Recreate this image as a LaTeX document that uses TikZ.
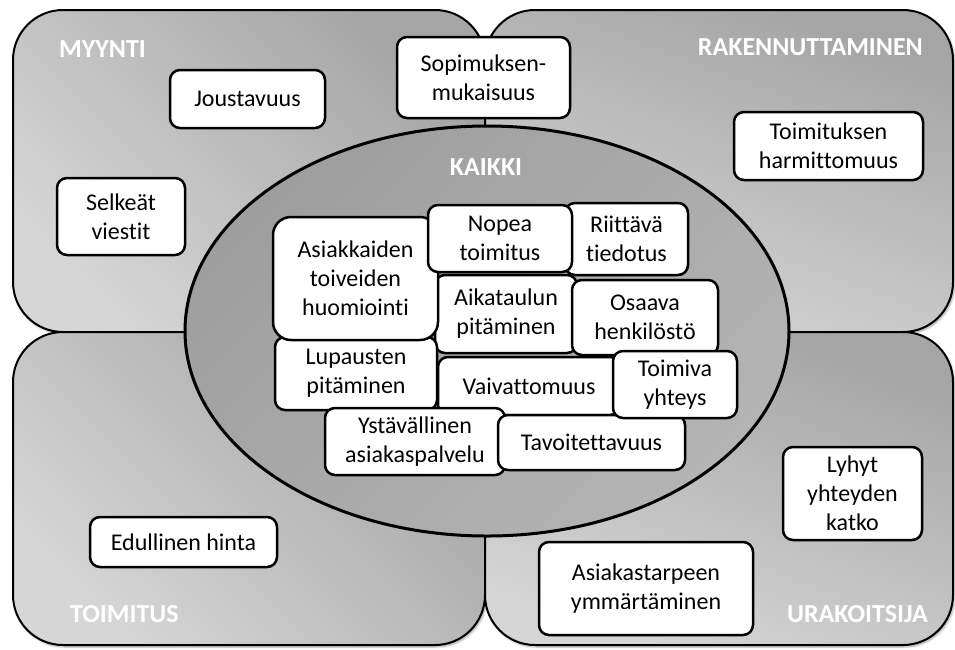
\documentclass[tikz,border=0pt]{standalone}
\usepackage{fontspec}
\setmainfont{Carlito}[Ligatures={NoCommon}]
\usetikzlibrary{shadows.blur}
\definecolor{qdark}{HTML}{A5A5A5}
\definecolor{qlight}{HTML}{D6D6D6}
\definecolor{edark}{HTML}{9E9E9E}
\definecolor{elight}{HTML}{B4B4B4}
\begin{document}
\begin{tikzpicture}[x=1pt,y=-1pt,
  quad/.style={draw=black, line width=2pt, rounded corners=50pt,
    blur shadow={shadow xshift=1.5pt, shadow yshift=-2pt, shadow blur steps=6, shadow opacity=35}},
  leftquad/.style={quad, top color=qdark, bottom color=qlight, shading angle=-45},
  rightquad/.style={quad, left color=qdark, right color=qlight, shading angle=-20},
  item/.style={draw=black, line width=2.5pt, fill=white, rounded corners=10pt,
    align=center, inner sep=0pt, font=\fontsize{24}{29}\selectfont},
  tag/.style={text=white, font=\fontsize{26}{30}\selectfont\bfseries, inner sep=0pt}]
\useasboundingbox (0,0) rectangle (955,649);

% four quadrants
\path[leftquad]  (13,10)  rectangle (485,332);
\path[rightquad] (485,10) rectangle (953,332);
\path[leftquad]  (13,332) rectangle (485,645);
\path[rightquad] (485,332) rectangle (953,645);

% central ellipse
\path[draw=black, line width=3pt, top color=edark, bottom color=elight, shading angle=45]
  (487,331) ellipse [x radius=302, y radius=205];

% quadrant and centre titles
\node[tag, anchor=base west] (myynti) at (59,57) {MYYNTI};
\node[tag, anchor=base east] (rak) at (923,55) {RAKENNUTTAMINEN};
\node[tag, anchor=base] (kaikki) at (486,175) {KAIKKI};
\node[tag, anchor=base west] (toimitus) at (70,622) {TOIMITUS};
\node[tag, anchor=base east] (urak) at (928,622) {URAKOITSIJA};

% outer items
\node[item, minimum width=155pt, minimum height=58pt] (jous) at (247.5,99) {Joustavuus};
\node[item, minimum width=128pt, minimum height=77pt] (selk) at (121,216.5) {Selkeät\\viestit};
\node[item, minimum width=173pt, minimum height=81pt] (sopi) at (483.5,77.5) {Sopimuksen-\\mukaisuus};
\node[item, minimum width=189pt, minimum height=68pt] (harm) at (828.5,146) {Toimituksen\\harmittomuus};
\node[item, minimum width=187pt, minimum height=50pt] (edul) at (183.5,542) {Edullinen hinta};
\node[item, minimum width=139pt, minimum height=93pt] (lyhy) at (852.5,493.5) {Lyhyt\\yhteyden\\katko};
\node[item, minimum width=214pt, minimum height=93pt] (asta) at (646,588.5) {Asiakastarpeen\\ymmärtäminen};

% items shared by all
\node[item, minimum width=123pt, minimum height=72pt] (riit) at (626.5,239) {Riittävä\\tiedotus};
\node[item, minimum width=142pt, minimum height=78pt] (aika) at (506,314) {Aikataulun\\pitäminen};
\node[item, minimum width=162pt, minimum height=73pt] (lupa) at (356,373.5) {Lupausten\\pitäminen};
\node[item, minimum width=165pt, minimum height=123pt, rounded corners=18pt] (asia) at (355.5,278.5) {Asiakkaiden\\toiveiden\\huomiointi};
\node[item, minimum width=144pt, minimum height=67pt] (nope) at (500,238.5) {Nopea\\toimitus};
\node[item, minimum width=146pt, minimum height=75pt] (osaa) at (645,317.5) {Osaava\\henkilöstö};
\node[item, minimum width=182pt, minimum height=58pt] (vaiv) at (529,386) {Vaivattomuus};
\node[item, minimum width=180pt, minimum height=67pt] (ysta) at (415,441.5) {Ystävällinen\\asiakaspalvelu};
\node[item, minimum width=187pt, minimum height=55pt] (tavo) at (591.5,442.5) {Tavoitettavuus};
\node[item, minimum width=124pt, minimum height=67pt] (toim) at (675,384.5) {Toimiva\\yhteys};
\end{tikzpicture}
\end{document}
